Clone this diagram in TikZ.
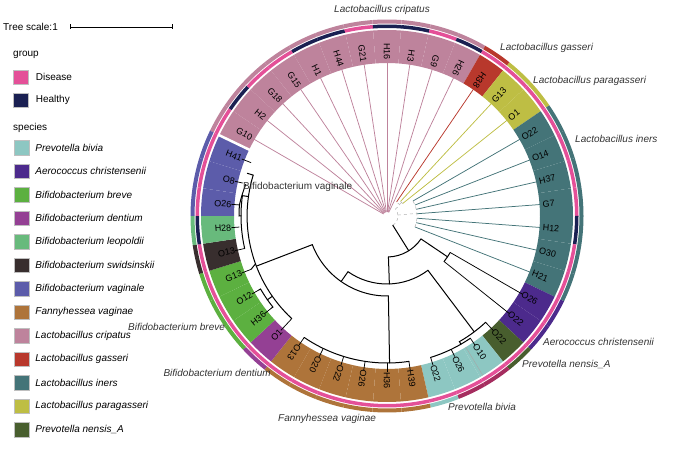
\documentclass[tikz,border=0pt]{standalone}
\usepackage{fontspec}
\setmainfont{Liberation Sans}
\usetikzlibrary{positioning, calc}

\definecolor{cbivia}{RGB}{141,199,194}
\definecolor{caero}{RGB}{76,42,140}
\definecolor{cbreve}{RGB}{92,176,64}
\definecolor{cdentium}{RGB}{148,64,148}
\definecolor{cleop}{RGB}{104,186,124}
\definecolor{cswid}{RGB}{56,46,46}
\definecolor{cbvag}{RGB}{92,92,170}
\definecolor{cfanny}{RGB}{174,116,58}
\definecolor{ccrisp}{RGB}{190,131,156}
\definecolor{cgass}{RGB}{184,56,44}
\definecolor{ciners}{RGB}{68,116,120}
\definecolor{cparag}{RGB}{190,190,68}
\definecolor{cnensis}{RGB}{72,94,46}
\definecolor{cdis}{RGB}{228,80,152}
\definecolor{cheal}{RGB}{26,32,82}
\definecolor{cmaroon}{RGB}{165,45,95}

\tikzstyle{leaflabel} = [font=\fontsize{9}{10}\selectfont, inner sep=0pt]
\tikzstyle{cladelabel} = [font=\fontsize{10}{12}\selectfont\itshape, text=black!80, inner sep=0pt]
\tikzstyle{legendtext} = [font=\fontsize{10}{12}\selectfont, inner sep=0pt, anchor=west]
\tikzstyle{swatch} = [draw=black!25, minimum width=15pt, minimum height=14.5pt, inner sep=0pt]
\tikzstyle{branch} = [draw, line width=1pt, line cap=round]
\tikzstyle{twig} = [draw, line width=0.75pt]

\begin{document}
\begin{tikzpicture}[x=1pt, y=1pt]
    \useasboundingbox (0,0) rectangle (683,454);

    % scale and legend
    \node[legendtext] (scale) at (3,427) {Tree scale:1};
    \coordinate (sb0) at (70,427);
    \coordinate (sb1) at (172,427);
    \draw[line width=0.5pt] (sb0) -- (sb1);
    \draw[line width=0.5pt] ($(sb0)+(0,2.5)$) -- ($(sb0)-(0,2.5)$);
    \draw[line width=0.5pt] ($(sb1)+(0,2.5)$) -- ($(sb1)-(0,2.5)$);
    \draw[line width=0.4pt] (121,427) -- (121,425.5);

    \node[legendtext] (grp) at (13,399) {group};
    \node[swatch, fill=cdis] (sdis) at (21,377) {};
    \node[swatch, fill=cheal, below=8.5pt of sdis] (sheal) {};
    \node[legendtext, right=7pt of sdis] {Disease};
    \node[legendtext, right=7pt of sheal] {Healthy};

    \node[legendtext] (spc) at (13,326) {species};
    \node[swatch, fill=cbivia] (s1) at (21.5,306.3) {};
    \node[swatch, fill=caero, below=8.6pt of s1] (s2) {};
    \node[swatch, fill=cbreve, below=8.6pt of s2] (s3) {};
    \node[swatch, fill=cdentium, below=8.6pt of s3] (s4) {};
    \node[swatch, fill=cleop, below=8.6pt of s4] (s5) {};
    \node[swatch, fill=cswid, below=8.6pt of s5] (s6) {};
    \node[swatch, fill=cbvag, below=8.6pt of s6] (s7) {};
    \node[swatch, fill=cfanny, below=8.6pt of s7] (s8) {};
    \node[swatch, fill=ccrisp, below=8.6pt of s8] (s9) {};
    \node[swatch, fill=cgass, below=8.6pt of s9] (s10) {};
    \node[swatch, fill=ciners, below=8.6pt of s10] (s11) {};
    \node[swatch, fill=cparag, below=8.6pt of s11] (s12) {};
    \node[swatch, fill=cnensis, below=8.6pt of s12] (s13) {};
    \node[legendtext, right=6pt of s1] {\itshape Prevotella bivia};
    \node[legendtext, right=6pt of s2] {\itshape Aerococcus christensenii};
    \node[legendtext, right=6pt of s3] {\itshape Bifidobacterium breve};
    \node[legendtext, right=6pt of s4] {\itshape Bifidobacterium dentium};
    \node[legendtext, right=6pt of s5] {\itshape Bifidobacterium leopoldii};
    \node[legendtext, right=6pt of s6] {\itshape Bifidobacterium swidsinskii};
    \node[legendtext, right=6pt of s7] {\itshape Bifidobacterium vaginale};
    \node[legendtext, right=6pt of s8] {\itshape Fannyhessea vaginae};
    \node[legendtext, right=6pt of s9] {\itshape Lactobacillus cripatus};
    \node[legendtext, right=6pt of s10] {\itshape Lactobacillus gasseri};
    \node[legendtext, right=6pt of s11] {\itshape Lactobacillus iners};
    \node[legendtext, right=6pt of s12] {\itshape Lactobacillus paragasseri};
    \node[legendtext, right=6pt of s13] {\itshape Prevotella nensis\_A};

    % the circular tree
    \begin{scope}[shift={(387,238)}]
        % leaf: index / label / species / group / outer ring / line colour / end radius
        \foreach \i/\lab/\sp/\gr/\ou/\lc/\re in {
            0/G10/ccrisp/cdis/ccrisp/ccrisp/4, 1/H2/ccrisp/cheal/ccrisp/ccrisp/4,
            2/G18/ccrisp/cdis/ccrisp/ccrisp/4, 3/G15/ccrisp/cdis/ccrisp/ccrisp/4,
            4/H1/ccrisp/cheal/ccrisp/ccrisp/4, 5/H44/ccrisp/cheal/ccrisp/ccrisp/4,
            6/G21/ccrisp/cdis/ccrisp/ccrisp/4, 7/H16/ccrisp/cheal/ccrisp/ccrisp/4,
            8/H3/ccrisp/cheal/ccrisp/ccrisp/4, 9/G9/ccrisp/cdis/ccrisp/ccrisp/4,
            10/H26/ccrisp/cheal/ccrisp/ccrisp/4, 11/H38/cgass/cdis/cgass/cgass/17,
            12/G13/cparag/cdis/cparag/cparag/20, 13/O1/cparag/cdis/cparag/cparag/20,
            14/O22/ciners/cdis/ciners/ciners/30, 15/O14/ciners/cdis/ciners/ciners/30,
            16/H37/ciners/cdis/ciners/ciners/30, 17/G7/ciners/cdis/ciners/ciners/30,
            18/H12/ciners/cheal/ciners/ciners/30, 19/O30/ciners/cdis/ciners/ciners/30,
            20/H21/ciners/cdis/ciners/ciners/30, 21/O26/caero/cdis/caero/black/73,
            22/O22/caero/cdis/caero/black/73, 23/O22/cnensis/cdis/cnensis/black/145,
            24/O10/cbivia/cdis/cmaroon/black/148, 25/O26/cbivia/cdis/cmaroon/black/148,
            26/O22/cbivia/cdis/cbivia/black/148, 27/H39/cfanny/cdis/cfanny/black/147,
            28/H36/cfanny/cdis/cfanny/black/147, 29/O26/cfanny/cdis/cfanny/black/147,
            30/O22/cfanny/cdis/cfanny/black/147, 31/O20/cfanny/cdis/cfanny/black/147,
            32/O13/cfanny/cdis/cfanny/black/147, 33/O1/cdentium/cdis/cdentium/black/140,
            34/H36/cbreve/cdis/cbreve/black/148, 35/O12/cbreve/cdis/cbreve/black/148,
            36/G13/cbreve/cdis/cbreve/black/146, 37/O13/cswid/cdis/cswid/black/146,
            38/H28/cleop/cheal/cleop/black/148, 39/O26/cbvag/cdis/cbvag/black/148,
            40/O8/cbvag/cdis/cbvag/black/148, 41/H41/cbvag/cdis/cbvag/black/146} {
            \pgfmathsetmacro\a{150-\i*360/42}
            \pgfmathsetmacro\lo{\a-180/42}
            \pgfmathsetmacro\hi{\a+180/42}
            \fill[\sp] (\lo:153) arc[start angle=\lo, end angle=\hi, radius=153]
                -- (\hi:186) arc[start angle=\hi, end angle=\lo, radius=186] -- cycle;
            \fill[\gr] (\lo:188) arc[start angle=\lo, end angle=\hi, radius=188]
                -- (\hi:191.5) arc[start angle=\hi, end angle=\lo, radius=191.5] -- cycle;
            \fill[\ou] (\lo:192.5) arc[start angle=\lo, end angle=\hi, radius=192.5]
                -- (\hi:196.5) arc[start angle=\hi, end angle=\lo, radius=196.5] -- cycle;
            \coordinate (p\i) at (\a:156);
            \coordinate (q\i) at (\a:\re);
            \ifnum\i<12
                \node[leaflabel, rotate=\a+180, anchor=east] (l\i) at (p\i) {\lab};
            \else\ifnum\i>32
                \node[leaflabel, rotate=\a+180, anchor=east] (l\i) at (p\i) {\lab};
            \else
                \node[leaflabel, rotate=\a, anchor=west] (l\i) at (p\i) {\lab};
            \fi\fi
            \draw[twig, \lc] (p\i) -- (q\i);
        }
        % gap between the two ends of the strip, line inside P. bivia
        \draw[white, line width=2.5pt] (154.3:152) -- (154.3:187);
        \draw[black!35, line width=0.4pt] (-59:153) -- (-59:186);

        % small inner branches of the Lactobacillus group
        \draw[twig, black!30, dashed, line width=0.5pt] (-58:11) arc[start angle=-58, end angle=40, radius=11];
        \draw[twig, black!30, dashed, line width=0.5pt] (40:11) -- (40:17) arc[start angle=40, end angle=55.7, radius=17];
        \draw[twig, black!30, dashed, line width=0.5pt] (47.1:20) arc[start angle=47.1, end angle=38.6, radius=20];
        \draw[twig, black!30, dashed, line width=0.5pt] (43:17) -- (43:20);
        \draw[twig, black!30, dashed, line width=0.5pt] (30:30) arc[start angle=30, end angle=-21.4, radius=30];
        \draw[twig, black!30, dashed, line width=0.5pt] (5:11) -- (5:30);

        % black part of the tree
        \coordinate (n1) at (-58:11);
        \coordinate (n2) at (-58:41);
        \draw[branch] (n1) -- (n2);
        \draw[branch] (-88:41) arc[start angle=-88, end angle=-34, radius=41];
        % Aerococcus
        \draw[branch] (-34:41) -- (-34:73);
        \draw[branch] (q21) arc[start angle=-30, end angle=-38.6, radius=73];
        % Prevotella
        \draw[branch] (-88:41) -- (-88:68);
        \draw[branch] (-125:68) arc[start angle=-125, end angle=-53, radius=68];
        \draw[branch] (-53:68) -- (-53:145);
        \draw[branch] (q23) arc[start angle=-47.1, end angle=-60, radius=145] -- (-60:148);
        \draw[branch] (q24) arc[start angle=-55.7, end angle=-72.9, radius=148];
        % Fannyhessea and Bifidobacterium
        \draw[branch] (-125:68) -- (-125:80);
        \draw[branch] (-159:80) arc[start angle=-159, end angle=-89, radius=80];
        \draw[branch] (-89:80) -- (-89:147);
        \draw[branch] (q32) arc[start angle=-124.3, end angle=-81.4, radius=147];
        \draw[branch] (-159:80) -- (-159:140);
        \draw[branch] (q33) arc[start angle=-132.9, end angle=-197, radius=140] -- (-197:146);
        \draw[branch] (q39) arc[start angle=-192.9, end angle=-201.4, radius=146];
        \draw[branch] (-188:140) -- (-188:146) arc[start angle=-188, end angle=-167.1, radius=146];
        \draw[branch] (-180:146) -- (-180:148) arc[start angle=-180, end angle=-184.3, radius=148];
        \draw[branch] (-145:140) -- (-145:146) arc[start angle=-145, end angle=-141.4, radius=146] -- (q34);
        \draw[branch] (-145:146) arc[start angle=-145, end angle=-150, radius=146] -- (q35);
        \draw[branch] (-160:140) -- (q36);
    \end{scope}

    % clade names
    \node[cladelabel] (ncrisp) at (382,444) {Lactobacillus cripatus};
    \node[cladelabel, anchor=west] (ngass) at (500,406) {Lactobacillus gasseri};
    \node[cladelabel, anchor=west] (nparag) at (533,373) {Lactobacillus paragasseri};
    \node[cladelabel, anchor=west] (niners) at (575,315) {Lactobacillus iners};
    \node[cladelabel, anchor=west] (naero) at (543,112) {Aerococcus christensenii};
    \node[cladelabel, anchor=west] (nnens) at (522,90) {Prevotella nensis\_A};
    \node[cladelabel, anchor=west] (nbiv) at (448,47) {Prevotella bivia};
    \node[cladelabel, anchor=west] (nfan) at (278,35) {Fannyhessea vaginae};
    \node[cladelabel, anchor=east] (ndent) at (271,81) {Bifidobacterium dentium};
    \node[cladelabel, anchor=west] (nbrev) at (128,127) {Bifidobacterium breve};
    \node[cladelabel, anchor=west, font=\fontsize{10}{12}\selectfont\upshape] (nbvag) at (243,267) {Bifidobacterium vaginale};
\end{tikzpicture}
\end{document}
